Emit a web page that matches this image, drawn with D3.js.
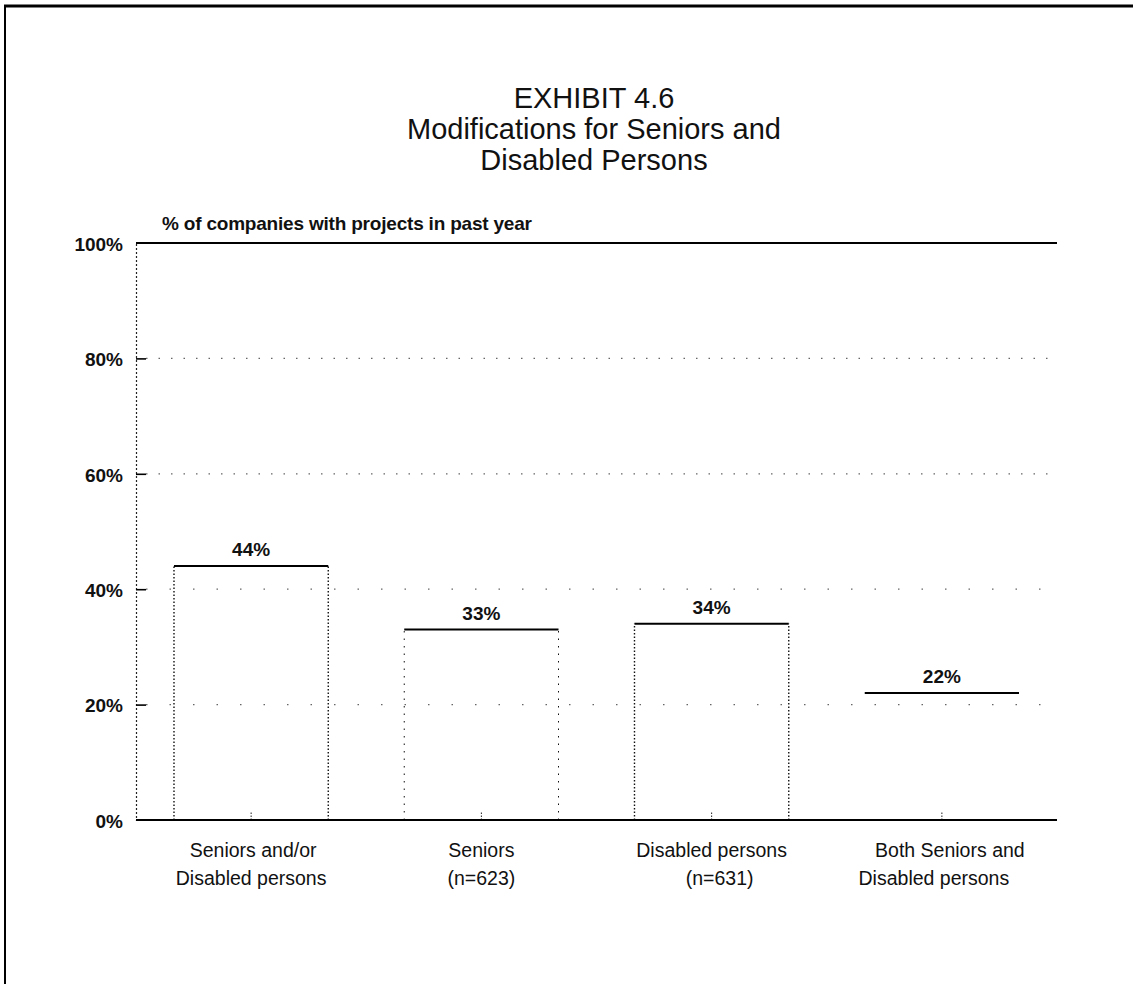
<!DOCTYPE html>
<html>
<head>
<meta charset="utf-8">
<script src="https://cdn.jsdelivr.net/npm/d3@7"></script>
<style>
  html, body { margin: 0; padding: 0; background: #fff; }
  svg { display: block; font-family: "Liberation Sans", Arial, Helvetica, sans-serif; }
</style>
</head>
<body>
<svg id="chart" width="1133" height="984"></svg>
<script>
// Share of companies that carried out each kind of modification in the past year
const categories = ["Seniors and/or Disabled persons", "Seniors", "Disabled persons", "Both Seniors and Disabled persons"];
const categoryLines = [
  ["Seniors and/or", "Disabled persons"],
  ["Seniors", "(n=623)"],
  ["Disabled persons", "(n=631)"],
  ["Both Seniors and", "Disabled persons"]
];
const values = [44, 33, 34, 22];
const yTicks = [0, 20, 40, 60, 80, 100];
const titleLines = ["EXHIBIT 4.6", "Modifications for Seniors and", "Disabled Persons"];
const axisCaption = "% of companies with projects in past year";

const svg = d3.select("#chart");

const margin = { left: 136, right: 1057, top: 243, bottom: 820 };

const x = d3.scaleBand()
  .domain(categories)
  .range([margin.left, margin.right])
  .paddingInner(0.33)
  .paddingOuter(0.165);

const y = d3.scaleLinear()
  .domain([0, 100])
  .range([margin.bottom, margin.top]);

// Page frame: heavy rule along the top and the left edge
svg.append("line")
  .attr("x1", 4).attr("x2", 1133).attr("y1", 6).attr("y2", 6)
  .attr("stroke", "#000").attr("stroke-width", 3);
svg.append("line")
  .attr("x1", 5).attr("x2", 5).attr("y1", 6).attr("y2", 984)
  .attr("stroke", "#000").attr("stroke-width", 2);

// Title
svg.append("g")
  .selectAll("text")
  .data(titleLines)
  .join("text")
  .attr("x", 594)
  .attr("y", (d, i) => 108 + i * 31)
  .attr("text-anchor", "middle")
  .attr("font-size", 29)
  .attr("fill", "#111")
  .text(d => d);

// Caption above the plot
svg.append("text")
  .attr("x", 162)
  .attr("y", 230)
  .attr("font-size", 19)
  .attr("font-weight", "bold")
  .attr("letter-spacing", -0.2)
  .attr("fill", "#111")
  .text(axisCaption);

// Faint dotted gridlines at the inner ticks
svg.append("g")
  .selectAll("line")
  .data(yTicks.filter(t => t > 0 && t < 100))
  .join("line")
  .attr("x1", margin.left + 10)
  .attr("x2", margin.right)
  .attr("y1", d => y(d))
  .attr("y2", d => y(d))
  .attr("stroke", "#666")
  .attr("stroke-width", 1.2)
  .attr("stroke-dasharray", d => d >= 60 ? "1.5,11" : "1.5,22");

// Y axis: dotted spine, short ticks to the right, bold labels on the left
const yAxis = d3.axisRight(y)
  .tickValues(yTicks)
  .tickSize(10)
  .tickFormat(d => d + "%");

const yg = svg.append("g")
  .attr("transform", `translate(${margin.left},0)`)
  .call(yAxis);
yg.select(".domain")
  .attr("stroke", "#222")
  .attr("stroke-width", 1.2)
  .attr("stroke-dasharray", "2,2");
yg.selectAll(".tick line")
  .attr("stroke", "#000")
  .attr("stroke-width", 1.6);
yg.selectAll(".tick text")
  .attr("x", -13)
  .attr("dy", "0.38em")
  .attr("text-anchor", "end")
  .attr("font-size", 19)
  .attr("font-weight", "bold")
  .attr("font-family", "'Liberation Sans', Arial, sans-serif")
  .attr("fill", "#111");
yg.selectAll(".tick").filter(d => d === 0 || d === 100).select("line").remove();

// Bars: dotted sides, solid top
const bars = svg.append("g")
  .selectAll("g")
  .data(categories.map((c, i) => ({ c, v: values[i], i })))
  .join("g");

bars.filter(d => d.i < 3).append("path")
  .attr("d", d => {
    const x0 = x(d.c), x1 = x(d.c) + x.bandwidth();
    return `M${x0},${y(0)}V${y(d.v)}M${x1},${y(0)}V${y(d.v)}`;
  })
  .attr("fill", "none")
  .attr("stroke", "#111")
  .attr("stroke-width", d => d.i === 1 ? 1 : 1.4)
  .attr("stroke-dasharray", d => d.i === 1 ? "1.5,6" : "1.5,2");

bars.append("line")
  .attr("x1", d => x(d.c))
  .attr("x2", d => x(d.c) + x.bandwidth())
  .attr("y1", d => y(d.v))
  .attr("y2", d => y(d.v))
  .attr("stroke", "#000")
  .attr("stroke-width", 2);

// Value labels above each bar
bars.append("text")
  .attr("x", d => x(d.c) + x.bandwidth() / 2)
  .attr("y", d => y(d.v) - 10)
  .attr("text-anchor", "middle")
  .attr("font-size", 19)
  .attr("font-weight", "bold")
  .attr("fill", "#111")
  .text(d => d.v + "%");

// Small centre ticks rising from the baseline
bars.append("line")
  .attr("x1", d => x(d.c) + x.bandwidth() / 2)
  .attr("x2", d => x(d.c) + x.bandwidth() / 2)
  .attr("y1", y(0))
  .attr("y2", y(0) - 8)
  .attr("stroke", "#222")
  .attr("stroke-width", 1)
  .attr("stroke-dasharray", "1.5,1.5");

// Solid rules at 0% and 100%
[0, 100].forEach(v => {
  svg.append("line")
    .attr("x1", margin.left)
    .attr("x2", margin.right)
    .attr("y1", y(v))
    .attr("y2", y(v))
    .attr("stroke", "#000")
    .attr("stroke-width", 2.2);
});

// Category labels, two lines under each bar
const labelShift = [[2, 0], [0, 0], [0, 8], [8, -8]];
svg.append("g")
  .selectAll("text")
  .data(categories.map((c, i) => ({ c, i })))
  .join("text")
  .attr("text-anchor", "middle")
  .attr("font-size", 19.5)
  .attr("fill", "#111")
  .each(function (d) {
    const cx = x(d.c) + x.bandwidth() / 2;
    const lines = categoryLines[d.i];
    d3.select(this).selectAll("tspan")
      .data(lines)
      .join("tspan")
      .attr("x", (t, j) => cx + labelShift[d.i][j])
      .attr("y", (t, j) => 857 + j * 28)
      .text(t => t);
  });
</script>
</body>
</html>
